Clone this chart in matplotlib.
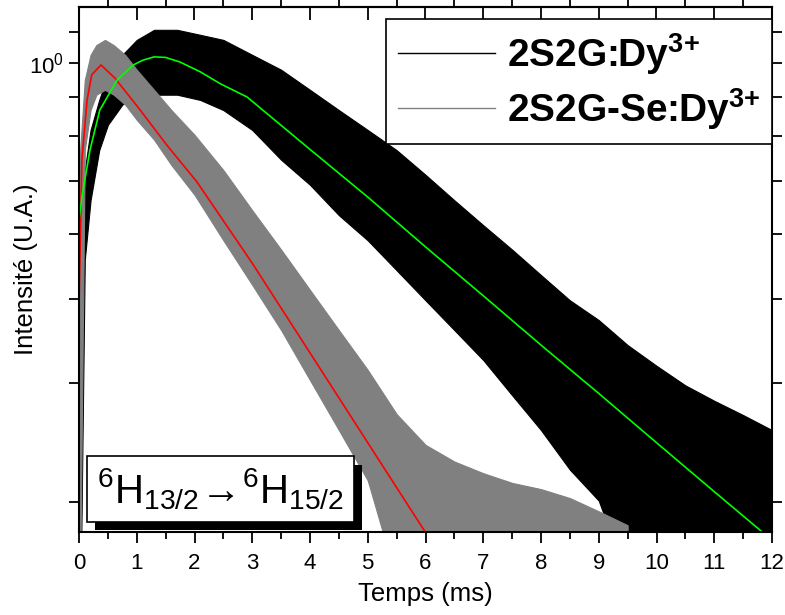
import numpy as np
import matplotlib
matplotlib.use('Agg')
import matplotlib.pyplot as plt
import matplotlib.patheffects as pe
from matplotlib.lines import Line2D
from matplotlib.ticker import FixedLocator, NullFormatter

plt.rcParams['font.family'] = ['Liberation Sans', 'DejaVu Sans']
plt.rcParams['mathtext.fontset'] = 'custom'
plt.rcParams['mathtext.rm'] = 'Liberation Sans'
plt.rcParams['mathtext.bf'] = 'Liberation Sans:bold'
plt.rcParams['mathtext.it'] = 'Liberation Sans:italic'

# fits (normalised intensity vs time in ms)
t_fit_2s2g = [0, 0.05, 0.19, 0.36, 0.66, 0.94, 1.1, 1.30, 1.5, 1.75, 2.10, 2.45, 2.91, 3.95,
              5, 6, 7, 8, 9, 10, 11, 11.84]
fit_2s2g = [0.583, 0.631, 0.741, 0.850, 0.942, 0.992, 1.008, 1.020, 1.018, 1.002, 0.969, 0.930,
            0.889, 0.749, 0.631, 0.532, 0.450, 0.380, 0.322, 0.272, 0.230, 0.200]

t_fit_se = [0, 0.05, 0.14, 0.22, 0.38, 0.62, 1.06, 1.52, 2.04, 3, 4, 5, 6.0]
fit_se = [0.437, 0.717, 0.880, 0.959, 0.992, 0.949, 0.850, 0.754, 0.665, 0.503, 0.370, 0.272, 0.200]

# measured decays, given as noise envelope (upper / lower)
t_2s2g = [0, 0.03, 0.1, 0.2, 0.35, 0.5, 0.75, 1.0, 1.3, 1.7, 2.1, 2.5, 3.0, 3.5, 4.0, 4.5,
          5.0, 5.5, 6.0, 6.5, 7.0, 7.5, 8.0, 8.5, 9.0, 9.5, 10, 10.5, 11, 11.5, 12]
hi_2s2g = [0.400, 0.527, 0.692, 0.794, 0.880, 0.959, 1.027, 1.081, 1.119, 1.119, 1.100, 1.081,
           1.027, 0.976, 0.911, 0.850, 0.794, 0.741, 0.681, 0.624, 0.573, 0.527, 0.483, 0.443,
           0.414, 0.380, 0.354, 0.331, 0.314, 0.299, 0.284]
lo_2s2g = [0.17, 0.17, 0.509, 0.624, 0.741, 0.808, 0.866, 0.896, 0.896, 0.896, 0.880, 0.850,
           0.794, 0.717, 0.658, 0.593, 0.544, 0.491, 0.443, 0.400, 0.361, 0.320, 0.284, 0.248,
           0.223, 0.17, 0.17, 0.17, 0.17, 0.17, 0.17]

t_se = [0, 0.02, 0.1, 0.2, 0.3, 0.45, 0.6, 0.8, 1.0, 1.3, 1.6, 2.0, 2.5, 3.0, 3.5, 4.0,
        4.5, 5.0, 5.5, 6.0, 6.5, 7.0, 7.5, 8.0, 8.5, 9.0, 9.5]
hi_se = [0.476, 0.741, 0.942, 1.027, 1.062, 1.081, 1.062, 1.027, 0.976, 0.911, 0.850, 0.781,
         0.692, 0.603, 0.527, 0.459, 0.400, 0.349, 0.300, 0.270, 0.255, 0.245, 0.237, 0.232,
         0.225, 0.215, 0.205]
lo_se = [0.17, 0.17, 0.741, 0.850, 0.896, 0.911, 0.896, 0.866, 0.822, 0.768, 0.704, 0.636,
         0.544, 0.467, 0.400, 0.337, 0.284, 0.239, 0.17, 0.17, 0.17, 0.17, 0.17, 0.17,
         0.17, 0.17, 0.17]

labels = [r'2S2G:Dy$\mathbf{{}^{3{+}}}$', r'2S2G-Se:Dy$\mathbf{{}^{3{+}}}$']
transition = r'$\mathrm{{}^{6}H_{13/2}\!\rightarrow\!{}^{6}H_{15/2}}$'

fig = plt.figure(figsize=(7.85, 6.15), dpi=100)
ax = fig.add_axes([79/785, 83/615, 693/785, 525/615])

ax.fill_between(t_2s2g, lo_2s2g, hi_2s2g, color='black', lw=0.8)
ax.fill_between(t_se, lo_se, hi_se, color='#808080', lw=0.8)
ax.plot(t_fit_se, fit_se, color='#ff0000', lw=1.2)
ax.plot(t_fit_2s2g, fit_2s2g, color='#00ff00', lw=1.2)

ax.set_yscale('log')
ax.set_xlim(0, 12)
ax.set_ylim(0.2003, 1.21)

ax.set_xticks(range(13))
ax.set_xticks(np.arange(0.5, 12, 1), minor=True)
ax.yaxis.set_major_locator(FixedLocator([1.0]))
ax.yaxis.set_minor_locator(FixedLocator([2/9, 3/9, 4/9, 5/9, 6/9, 7/9, 8/9, 10/9]))
ax.set_yticklabels([r'$10^0$'])
ax.yaxis.set_minor_formatter(NullFormatter())

ax.tick_params(axis='x', which='major', direction='out', length=8, width=1.3, labelsize=16, pad=7)
ax.tick_params(axis='x', which='minor', direction='out', length=5, width=1.3)
ax.tick_params(axis='y', which='both', direction='out', length=7, width=1.3, labelsize=16,
               right=True)

top = ax.secondary_xaxis('top')
top.set_xticks(range(13))
top.set_xticks(np.arange(0.5, 12, 1), minor=True)
top.tick_params(which='major', direction='in', length=9, width=1.3, labeltop=False)
top.tick_params(which='minor', direction='out', length=7, width=1.3)
top.set_xticklabels([])

for s in ax.spines.values():
    s.set_linewidth(1.5)
top.spines['top'].set_linewidth(1.5)

ax.set_xlabel('Temps (ms)', fontsize=18.5, labelpad=6)
ax.set_ylabel('Intensité (U.A.)', fontsize=18.5)
ax.yaxis.set_label_coords(-0.059, 0.5)

handles = [Line2D([], [], color='black', lw=1.0), Line2D([], [], color='#808080', lw=1.0)]
leg = ax.legend(handles, labels, loc='upper right', bbox_to_anchor=(1.0, 0.977),
                borderaxespad=0, fancybox=False, edgecolor='black',
                prop={'weight': 'bold', 'size': 28}, handlelength=2.5, handletextpad=0.3,
                labelspacing=0.25, borderpad=0.3, framealpha=1)
leg.get_frame().set_linewidth(1.2)

# label box with a drop shadow
txt = ax.text(0.026, 0.038, transition, transform=ax.transAxes, fontsize=29,
              ha='left', va='bottom',
              bbox=dict(boxstyle='square,pad=0.25', fc='white', ec='black', lw=1.2))
txt.get_bbox_patch().set_path_effects([
    pe.SimplePatchShadow(offset=(6, -6), shadow_rgbFace='black', alpha=1.0),
    pe.Normal()])

fig.savefig('out.png', dpi=100)
